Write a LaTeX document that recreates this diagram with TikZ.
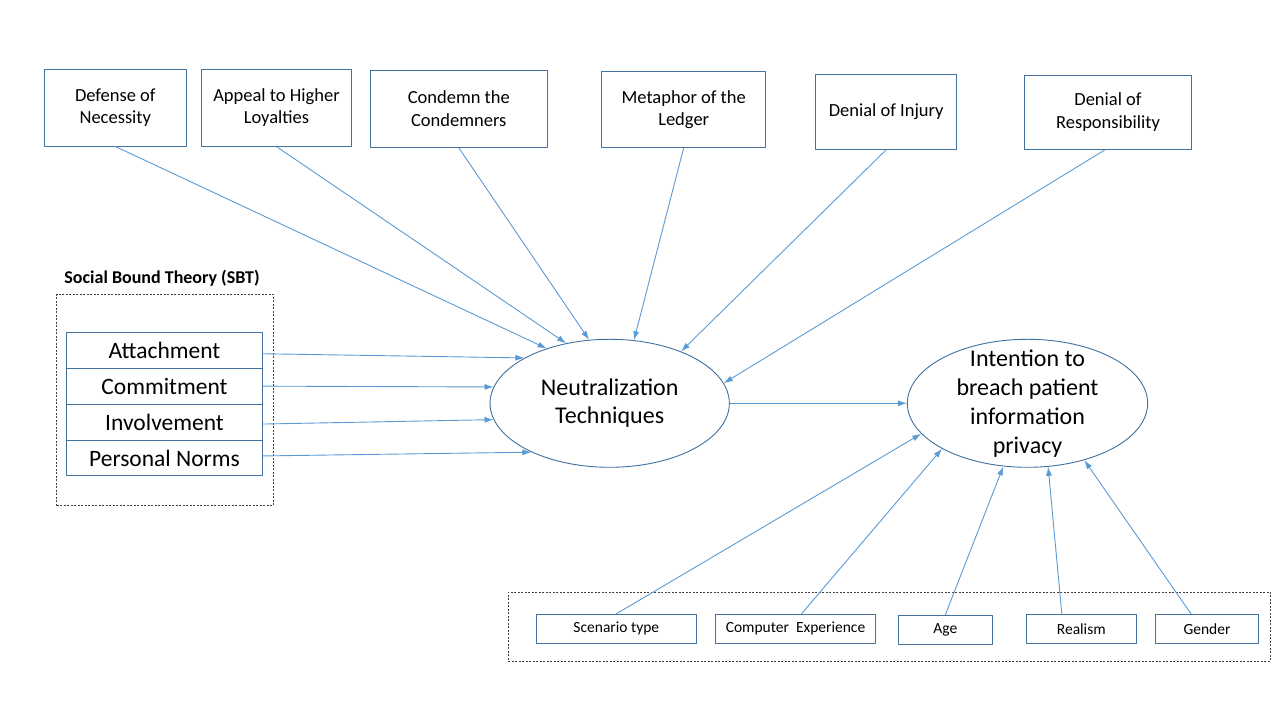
\documentclass[tikz,border=0pt]{standalone}
\usepackage{fontspec}
\setmainfont{Carlito}
\usetikzlibrary{shapes.geometric,arrows.meta}
\definecolor{boxline}{HTML}{41719C}
\definecolor{arrowline}{HTML}{5B9BD5}
\definecolor{dashline}{HTML}{404040}
\begin{document}
\begin{tikzpicture}[>={Latex[length=9bp,width=6bp]},line join=bevel,
  tech/.style={draw=boxline,line width=0.9bp,inner sep=0pt,align=center,font=\fontsize{18.5bp}{22.5bp}\selectfont},
  sbtrow/.style={draw=boxline,line width=0.9bp,minimum width=195.6bp,minimum height=35.9bp,inner sep=0pt,font=\fontsize{23.5bp}{28bp}\selectfont},
  construct/.style={ellipse,draw=boxline,line width=0.9bp,inner sep=0pt,minimum height=128bp},
  control/.style={draw=boxline,line width=0.9bp,minimum height=29bp,inner sep=0pt,font=\fontsize{15.5bp}{18bp}\selectfont},
  group/.style={draw=dashline,line width=0.7bp,dash pattern=on 2bp off 1.5bp,inner sep=0pt},
  link/.style={arrowline,line width=0.9bp,->},
]
\useasboundingbox[fill=white] (0bp,0bp) rectangle (1280bp,720bp);
%%
\node (node_defense) at (115.3bp,612.5bp) [tech,minimum width=142.7bp,minimum height=77bp] {Defense of\\Necessity};
  \node (node_appeal) at (276.5bp,612.3bp) [tech,minimum width=150.4bp,minimum height=77bp] {Appeal to Higher\\Loyalties};
  \node (node_condemn) at (458.8bp,611.3bp) [tech,minimum width=177.7bp,minimum height=77.3bp] {Condemn the\\Condemners};
  \node (node_ledger) at (683.7bp,610.5bp) [tech,minimum width=164bp,minimum height=75.6bp] {Metaphor of the\\Ledger};
  \node (node_injury) at (886.2bp,608.2bp) [tech,minimum width=141bp,minimum height=75bp] {Denial of Injury};
  \node (node_resp) at (1108bp,607.8bp) [tech,minimum width=167.4bp,minimum height=74.3bp] {Denial of\\Responsibility};
%
  \node (node_sbttitle) at (162bp,441.7bp) [font=\bfseries\fontsize{18bp}{21bp}\selectfont] {Social Bound Theory (SBT)};
  \node (node_sbt) at (165bp,320bp) [group,minimum width=216.6bp,minimum height=211.4bp] {};
  \node (node_attach) at (164.5bp,369.75bp) [sbtrow] {Attachment};
  \node (node_commit) at (164.5bp,333.85bp) [sbtrow] {Commitment};
  \node (node_involve) at (164.5bp,297.95bp) [sbtrow] {Involvement};
  \node (node_norms) at (164.5bp,262.05bp) [sbtrow] {Personal Norms};
%
  \node (node_nt) at (609.7bp,316.7bp) [construct,minimum width=239.3bp,
    label={[align=center,font=\fontsize{24bp}{28.5bp}\selectfont]center:{Neutralization\\Techniques}}] {};
  \node (node_int) at (1027.5bp,316.7bp) [construct,minimum width=240.3bp,
    label={[align=center,font=\fontsize{24bp}{29bp}\selectfont]center:{Intention to\\breach patient\\information\\privacy}}] {};
%
  \node (node_ctrl) at (889.5bp,93.35bp) [group,minimum width=762.4bp,minimum height=68.7bp] {};
  \node (node_scenario) at (616.3bp,91.2bp) [control,minimum width=160.7bp] {Scenario type};
  \node (node_computer) at (795.5bp,91.2bp) [control,minimum width=160.4bp] {Computer\ \ Experience};
  \node (node_age) at (945.3bp,90.2bp) [control,minimum width=94bp] {Age};
  \node (node_realism) at (1081.3bp,91.2bp) [control,minimum width=110bp] {Realism};
  \node (node_gender) at (1207bp,91.2bp) [control,minimum width=103.4bp] {Gender};
%
  \draw [link] (node_defense.south) -- (node_nt.139.6);
  \draw [link] (node_appeal.south) -- (node_nt.126.4);
  \draw [link] (node_condemn.south) -- (node_nt.108.7);
  \draw [link] (node_ledger.south) -- (node_nt.69.8);
  \draw [link] (node_injury.south) -- (node_nt.36.3);
  \draw [link] ([xshift=-3bp]node_resp.south) -- (node_nt.10);
  \draw [link] ([yshift=-3.5bp]node_attach.east) -- (node_nt.152.5);
  \draw [link] (node_commit.east) -- (node_nt.172);
  \draw [link] ([yshift=-2bp]node_involve.east) -- (node_nt.188.9);
  \draw [link] ([yshift=2bp]node_norms.east) -- (node_nt.212.3);
  \draw [link] (node_nt.east) -- (node_int.west);
  \draw [link] (node_scenario.north) -- (node_int.196);
  \draw [link] ([xshift=6bp]node_computer.north) -- (node_int.208.6);
  \draw [link] (node_age.north) -- (node_int.249);
  \draw [link] ([xshift=-19.5bp]node_realism.north) -- (node_int.288.3);
  \draw [link] ([xshift=-16bp]node_gender.north) -- (node_int.315.8);
%
\end{tikzpicture}
\end{document}
